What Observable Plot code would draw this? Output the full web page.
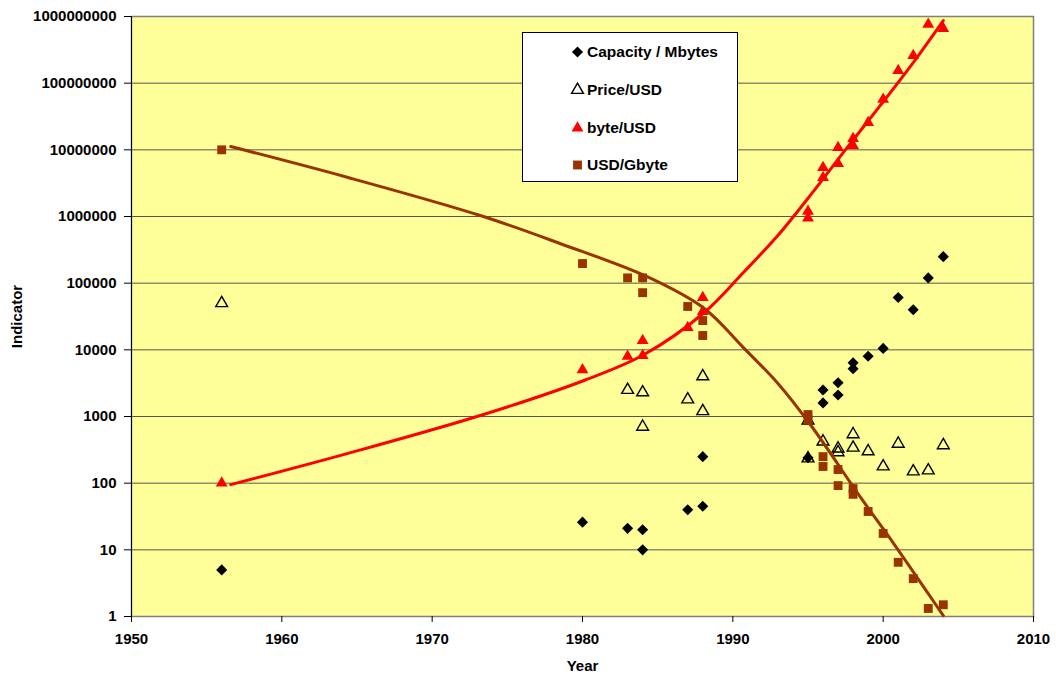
<!DOCTYPE html>
<html><head><meta charset="utf-8">
<script src="https://cdn.jsdelivr.net/npm/d3@7"></script>
<script src="https://cdn.jsdelivr.net/npm/@observablehq/plot@0.6"></script>
<style>
body{margin:0;background:#fff;}
#wrap{position:relative;width:1056px;height:679px;font-family:"Liberation Sans",Arial,sans-serif;}
#legend{position:absolute;left:522px;top:32px;width:216px;height:150px;background:#fff;border:1px solid #000;box-sizing:border-box;}
.item{position:absolute;left:45px;height:20px;display:flex;align-items:center;font-weight:bold;font-size:15.5px;color:#000;white-space:nowrap;}
.item svg{display:block;}
</style></head><body><div id="wrap"><div id="legend"></div></div>
<script>
// ---- data ----
const seriesNames = ["Capacity / Mbytes", "Price/USD", "byte/USD", "USD/Gbyte"];

const capYears  = [1956,1980,1983,1984,1984,1987,1988,1988,1995,1996,1996,1997,1997,1998,1998,1999,2000,2001,2002,2003,2004];
const capValues = [5,26,21,20,10,40,45,250,240,2500,1600,3200,2100,6400,5200,8000,10500,61000,40000,120000,250000];

const priceYears  = [1956,1983,1984,1984,1987,1988,1988,1995,1995,1996,1997,1997,1998,1998,1999,2000,2001,2002,2003,2004];
const priceValues = [50000,2500,2300,700,1800,4000,1200,870,235,420,330,290,540,340,300,178,390,150,155,370];

const byteYears  = [1956,1980,1983,1984,1984,1987,1988,1988,1995,1995,1996,1996,1997,1997,1998,1998,1999,2000,2001,2002,2003,2004];
const byteValues = [100,5000,8000,13800,8200,21600,61000,37600,1200000,950000,5400000,3850000,10800000,6200000,14800000,11600000,25700000,57000000,155000000,260000000,760000000,660000000];

const gbYears  = [1956,1980,1983,1984,1984,1987,1988,1988,1995,1995,1996,1996,1997,1997,1998,1998,1999,2000,2001,2002,2003,2004];
const gbValues = [10000000,197000,120000,120000,72000,44700,27500,16400,1070,900,250,178,160,92,83,68,37.6,17.6,6.5,3.7,1.32,1.5];

// trend lines
const trendByteYears  = [1956.6,1964.4,1973.2,1980.1,1984.1,1988.1,1990.7,1993.05,1995.4,1997.6,1999.8,2002.0,2004.0];
const trendByteValues = [95,280,1035,3470,8500,36300,144500,537000,2450000,10800000,46000000,204000000,870000000];

const trendGbYears  = [1956.6,1964.4,1973.2,1978.5,1984.3,1988.1,1990.7,1993.0,1995.2,1998.5,2000.7,2003.0,2004.0];
const trendGbValues = [11200000,3850000,1035000,394000,125000,41700,10800,3130,733,61,12.4,2.2,1.03];

const xTicks = [1950,1960,1970,1980,1990,2000,2010];
const yTicks = [1,10,100,1000,10000,100000,1000000,10000000,100000000,1000000000];

// ---- build tables ----
const zip = (xs, ys) => xs.map((x, i) => ({x, y: ys[i]}));
const cap = zip(capYears, capValues);
const price = zip(priceYears, priceValues);
const bytes = zip(byteYears, byteValues);
const gb = zip(gbYears, gbValues);
const trendByte = zip(trendByteYears, trendByteValues);
const trendGb = zip(trendGbYears, trendGbValues);

const BROWN = "#993300", RED = "#FF0000";
const font = "Liberation Sans, Arial, sans-serif";

const chart = Plot.plot({
  width: 1056, height: 679,
  marginLeft: 131, marginRight: 23, marginTop: 16, marginBottom: 63,
  style: {fontFamily: font, fontSize: "15px", fontWeight: "bold", background: "transparent", color: "#000", overflow: "visible"},
  x: {domain: [1950, 2010], label: null},
  y: {type: "log", domain: [1, 1e9], label: null},
  marks: [
    Plot.frame({fill: "#FFFF99", stroke: null}),
    Plot.gridY({ticks: yTicks, stroke: "#555", strokeOpacity: 1, strokeWidth: 1}),
    Plot.frame({stroke: "#808080", strokeWidth: 1.5}),
    Plot.ruleX([1950], {stroke: "#000", strokeWidth: 1}),
    Plot.axisY({ticks: yTicks, tickSize: 7, tickPadding: 8, tickFormat: d => d3.format("d")(d), label: null, fontSize: 15, fontWeight: "bold"}),
    Plot.axisX({ticks: xTicks, tickSize: 6, tickPadding: 11, tickFormat: d => String(d), label: null, fontSize: 15, fontWeight: "bold"}),
    Plot.dot(cap, {x: "x", y: "y", symbol: "diamond2", r: 5, fill: "#000", stroke: null}),
    Plot.dot(price, {x: "x", y: "y", symbol: "triangle", r: 4.4, fill: "none", stroke: "#000", strokeWidth: 1.4}),
    Plot.dot(bytes, {x: "x", y: "y", symbol: "triangle", r: 4.4, fill: RED, stroke: null}),
    Plot.dot(gb, {x: "x", y: "y", symbol: "square", r: 5, fill: BROWN, stroke: null}),
    Plot.line(trendGb, {x: "x", y: "y", stroke: BROWN, strokeWidth: 3, curve: "catmull-rom"}),
    Plot.line(trendByte, {x: "x", y: "y", stroke: RED, strokeWidth: 3, curve: "catmull-rom"}),
    Plot.text(["Indicator"], {text: d => d, frameAnchor: "left", dx: -114, rotate: -90, textAnchor: "middle", lineAnchor: "middle", fontSize: 15, fontWeight: "bold"}),
    Plot.text(["Year"], {text: d => d, frameAnchor: "bottom", dy: 50, lineAnchor: "middle", textAnchor: "middle", fontSize: 15, fontWeight: "bold"})
  ]
});
document.getElementById("wrap").prepend(chart);

// ---- legend ----
const legendRows = [
  {name: seriesNames[0], sym: d3.symbolDiamond2, r: 5, fill: "#000", stroke: "none"},
  {name: seriesNames[1], sym: d3.symbolTriangle, r: 4.4, fill: "none", stroke: "#000"},
  {name: seriesNames[2], sym: d3.symbolTriangle, r: 4.4, fill: RED, stroke: "none"},
  {name: seriesNames[3], sym: d3.symbolSquare, r: 5, fill: BROWN, stroke: "none"}
];
const rowTops = [9, 47, 85, 122];
const legend = d3.select("#legend");
legendRows.forEach((row, i) => {
  const item = legend.append("div").attr("class", "item").style("top", rowTops[i] + "px");
  const svg = item.append("svg").attr("width", 19).attr("height", 20);
  svg.append("path")
    .attr("transform", "translate(9.5,10)")
    .attr("d", d3.symbol(row.sym, Math.PI * row.r * row.r)())
    .attr("fill", row.fill).attr("stroke", row.stroke).attr("stroke-width", 1.4);
  item.append("span").text(row.name);
});
</script></body></html>
